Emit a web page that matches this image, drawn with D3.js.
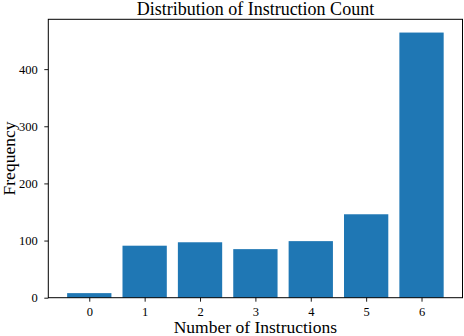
<!DOCTYPE html>
<html>
<head>
<meta charset="utf-8">
<script src="https://cdn.jsdelivr.net/npm/d3@7"></script>
<style>
  body { margin: 0; background: #fff; }
  text { font-family: "Liberation Serif", "DejaVu Serif", serif; fill: #000; }
</style>
</head>
<body>
<script>
// bar data
const categories = [0, 1, 2, 3, 4, 5, 6];
const counts = [8, 91, 97, 85, 99, 146, 464];
const yTicks = [0, 100, 200, 300, 400];

const width = 464, height = 336;
const margin = {left: 48.3, right: 1.5, top: 19.3, bottom: 38.3};

const svg = d3.select('body').append('svg')
    .attr('width', width)
    .attr('height', height);

// matplotlib style margins: bars span -0.4..6.4, plus 5% padding
const x = d3.scaleLinear()
    .domain([-0.74, 6.74])
    .range([margin.left, width - margin.right]);

const yMax = d3.max(counts) * 1.05;
const y = d3.scaleLinear()
    .domain([0, yMax])
    .range([height - margin.bottom, margin.top]);

const barW = x(0.8) - x(0);

svg.selectAll('rect.bar').data(categories).enter()
    .append('rect')
    .attr('class', 'bar')
    .attr('x', d => x(d - 0.4))
    .attr('y', (d, i) => y(counts[i]))
    .attr('width', barW)
    .attr('height', (d, i) => y(0) - y(counts[i]))
    .style('fill', '#1f77b4');

const xAxis = d3.axisBottom(x).tickValues(categories).tickSize(4).tickPadding(5.5).tickFormat(d3.format('d'));
const yAxis = d3.axisLeft(y).tickValues(yTicks).tickSize(4).tickPadding(6.5);

const gx = svg.append('g')
    .attr('transform', 'translate(0,' + y(0) + ')')
    .call(xAxis);
const gy = svg.append('g')
    .attr('transform', 'translate(' + margin.left + ',0)')
    .call(yAxis);

[gx, gy].forEach(g => {
    g.select('.domain').remove();
    g.selectAll('line').style('stroke', '#000').style('stroke-width', 0.9);
    g.selectAll('text').style('font-size', '12.5px').style('font-family', '"Liberation Serif", serif');
});

// frame
svg.append('rect')
    .attr('x', margin.left)
    .attr('y', margin.top)
    .attr('width', width - margin.right - margin.left)
    .attr('height', height - margin.bottom - margin.top)
    .style('fill', 'none')
    .style('stroke', '#000')
    .style('stroke-width', 1);

svg.append('text')
    .attr('x', (margin.left + width - margin.right) / 2)
    .attr('y', 14.5)
    .attr('text-anchor', 'middle')
    .style('font-size', '18px')
    .text('Distribution of Instruction Count');

svg.append('text')
    .attr('x', (margin.left + width - margin.right) / 2)
    .attr('y', 332.5)
    .attr('text-anchor', 'middle')
    .style('font-size', '17.5px')
    .text('Number of Instructions');

svg.append('text')
    .attr('transform', 'translate(14.5,' + (margin.top + height - margin.bottom) / 2 + ') rotate(-90)')
    .attr('text-anchor', 'middle')
    .style('font-size', '17.5px')
    .text('Frequency');
</script>
</body>
</html>
